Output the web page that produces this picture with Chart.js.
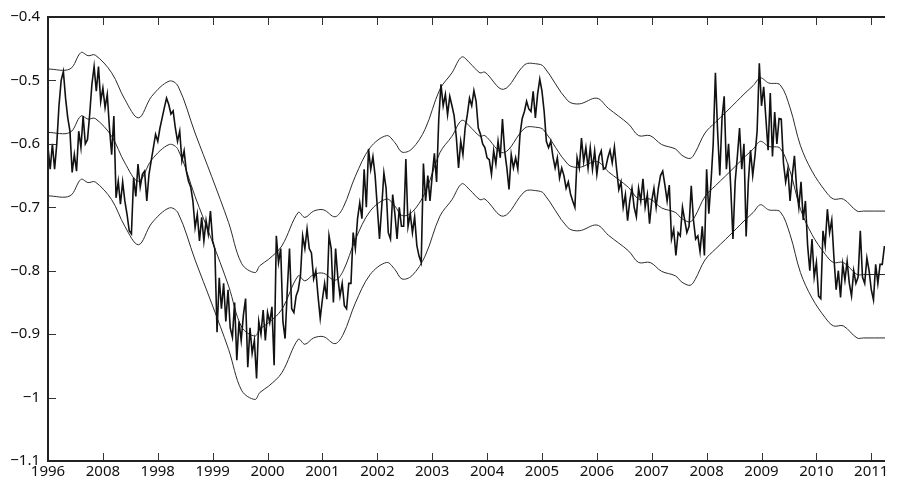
<!DOCTYPE html>
<html>
<head>
<meta charset="utf-8">
<script src="https://cdn.jsdelivr.net/npm/chart.js@4/dist/chart.umd.min.js"></script>
<style>
  html, body { margin: 0; padding: 0; background: #fff; }
  #chart { display: block; }
</style>
</head>
<body>
<canvas id="chart" width="904" height="484"></canvas>
<script>
// x tick positions and the labels printed under them (as in the original figure)
const xTickYears = [1996, 1997, 1998, 1999, 2000, 2001, 2002, 2003, 2004, 2005, 2006, 2007, 2008, 2009, 2010, 2011];
const xTickLabels = ['1996', '2008', '1998', '1999', '2000', '2001', '2002', '2003', '2004', '2005', '2006', '2007', '2008', '2009', '2010', '2011'];
const yTicks = [-1.1, -1.0, -0.9, -0.8, -0.7, -0.6, -0.5, -0.4];
const yTickLabels = ['\u22121.1', '\u22121', '\u22120.9', '\u22120.8', '\u22120.7', '\u22120.6', '\u22120.5', '\u22120.4'];

const rateStart = 1996;
const rateStep = 0.04;
const rateValues = [
  -0.605, -0.640, -0.600, -0.640, -0.600, -0.540, -0.500, -0.486, -0.528, -0.559,
  -0.580, -0.645, -0.617, -0.643, -0.580, -0.606, -0.556, -0.600, -0.593, -0.553,
  -0.506, -0.478, -0.517, -0.478, -0.533, -0.512, -0.543, -0.522, -0.575, -0.617,
  -0.556, -0.685, -0.659, -0.695, -0.660, -0.690, -0.711, -0.737, -0.742, -0.653,
  -0.683, -0.632, -0.668, -0.648, -0.643, -0.690, -0.648, -0.627, -0.606, -0.585,
  -0.596, -0.575, -0.559, -0.543, -0.528, -0.538, -0.553, -0.548, -0.575, -0.596,
  -0.580, -0.627, -0.611, -0.643, -0.659, -0.668, -0.690, -0.732, -0.711, -0.753,
  -0.716, -0.753, -0.721, -0.742, -0.706, -0.753, -0.766, -0.897, -0.811, -0.860,
  -0.820, -0.880, -0.830, -0.890, -0.905, -0.850, -0.941, -0.880, -0.910, -0.870,
  -0.844, -0.952, -0.890, -0.930, -0.910, -0.970, -0.880, -0.900, -0.862, -0.910,
  -0.866, -0.882, -0.857, -0.949, -0.745, -0.787, -0.765, -0.880, -0.907, -0.830,
  -0.765, -0.860, -0.866, -0.840, -0.830, -0.808, -0.745, -0.765, -0.734, -0.765,
  -0.772, -0.813, -0.800, -0.840, -0.875, -0.845, -0.820, -0.845, -0.745, -0.765,
  -0.850, -0.765, -0.810, -0.840, -0.820, -0.855, -0.860, -0.820, -0.820, -0.740,
  -0.765, -0.718, -0.693, -0.718, -0.640, -0.700, -0.608, -0.640, -0.620, -0.650,
  -0.700, -0.750, -0.700, -0.646, -0.670, -0.740, -0.750, -0.680, -0.710, -0.750,
  -0.700, -0.730, -0.730, -0.624, -0.730, -0.710, -0.740, -0.715, -0.760, -0.777,
  -0.787, -0.631, -0.690, -0.650, -0.690, -0.650, -0.615, -0.660, -0.560, -0.506,
  -0.540, -0.522, -0.554, -0.525, -0.540, -0.556, -0.590, -0.638, -0.596, -0.617,
  -0.575, -0.554, -0.528, -0.540, -0.516, -0.533, -0.575, -0.585, -0.600, -0.606,
  -0.622, -0.625, -0.648, -0.611, -0.632, -0.596, -0.622, -0.561, -0.611, -0.638,
  -0.672, -0.617, -0.638, -0.622, -0.640, -0.585, -0.560, -0.549, -0.533, -0.545,
  -0.549, -0.517, -0.559, -0.522, -0.498, -0.517, -0.549, -0.596, -0.606, -0.596,
  -0.620, -0.638, -0.622, -0.654, -0.638, -0.650, -0.670, -0.660, -0.679, -0.690,
  -0.700, -0.622, -0.638, -0.591, -0.628, -0.606, -0.638, -0.606, -0.640, -0.611,
  -0.648, -0.620, -0.611, -0.640, -0.638, -0.622, -0.610, -0.630, -0.605, -0.640,
  -0.672, -0.660, -0.700, -0.680, -0.721, -0.690, -0.670, -0.700, -0.715, -0.670,
  -0.690, -0.655, -0.700, -0.680, -0.726, -0.690, -0.670, -0.700, -0.670, -0.650,
  -0.643, -0.665, -0.690, -0.665, -0.750, -0.735, -0.776, -0.740, -0.745, -0.700,
  -0.720, -0.740, -0.730, -0.666, -0.720, -0.750, -0.745, -0.770, -0.730, -0.776,
  -0.640, -0.710, -0.660, -0.600, -0.488, -0.580, -0.650, -0.560, -0.525, -0.640,
  -0.600, -0.670, -0.750, -0.660, -0.620, -0.575, -0.640, -0.600, -0.746, -0.660,
  -0.610, -0.650, -0.620, -0.580, -0.473, -0.540, -0.510, -0.560, -0.610, -0.520,
  -0.620, -0.550, -0.600, -0.560, -0.561, -0.630, -0.660, -0.640, -0.690, -0.650,
  -0.619, -0.670, -0.700, -0.660, -0.720, -0.690, -0.760, -0.800, -0.750, -0.810,
  -0.787, -0.840, -0.844, -0.737, -0.760, -0.703, -0.740, -0.720, -0.780, -0.830,
  -0.800, -0.842, -0.790, -0.815, -0.785, -0.820, -0.840, -0.800, -0.820, -0.810,
  -0.737, -0.810, -0.820, -0.780, -0.800, -0.830, -0.846, -0.790, -0.820, -0.790,
  -0.790, -0.761
];

// moving average and its upper / lower bands
const bandYears = [
  1996.00, 1996.40, 1996.60, 1996.73, 1996.86, 1997.16, 1997.40, 1997.65, 1997.89, 1998.21,
  1998.37, 1998.68, 1998.98, 1999.29, 1999.53, 1999.77, 1999.86, 2000.02, 2000.26, 2000.56,
  2000.68, 2000.84, 2001.02, 2001.23, 2001.38, 2001.60, 2001.87, 2002.17, 2002.32, 2002.45,
  2002.63, 2002.87, 2003.14, 2003.36, 2003.54, 2003.69, 2003.87, 2003.96, 2004.30, 2004.69,
  2004.91, 2005.03, 2005.47, 2005.68, 2006.00, 2006.21, 2006.58, 2006.76, 2006.97, 2007.18,
  2007.43, 2007.55, 2007.70, 2007.79, 2007.97, 2008.16, 2008.34, 2008.55, 2008.70, 2008.85,
  2008.98, 2009.13, 2009.34, 2009.52, 2009.71, 2009.92, 2010.16, 2010.31, 2010.49, 2010.74,
  2010.86, 2011.25
];
const upperBand = [
  -0.482, -0.482, -0.456, -0.461, -0.460, -0.488, -0.530, -0.559, -0.525, -0.501,
  -0.509, -0.583, -0.651, -0.724, -0.789, -0.803, -0.792, -0.782, -0.761, -0.708,
  -0.716, -0.706, -0.704, -0.715, -0.700, -0.651, -0.606, -0.587, -0.598, -0.613,
  -0.608, -0.577, -0.514, -0.488, -0.463, -0.473, -0.488, -0.487, -0.514, -0.475,
  -0.474, -0.478, -0.532, -0.537, -0.528, -0.544, -0.569, -0.587, -0.587, -0.601,
  -0.608, -0.618, -0.623, -0.614, -0.583, -0.566, -0.551, -0.533, -0.520, -0.508,
  -0.496, -0.504, -0.507, -0.543, -0.603, -0.643, -0.674, -0.687, -0.687, -0.706,
  -0.706, -0.706
];
const movingAvg = [
  -0.582, -0.582, -0.556, -0.561, -0.560, -0.588, -0.630, -0.659, -0.625, -0.601,
  -0.609, -0.683, -0.751, -0.824, -0.889, -0.903, -0.892, -0.882, -0.861, -0.808,
  -0.816, -0.806, -0.804, -0.815, -0.800, -0.751, -0.706, -0.687, -0.698, -0.713,
  -0.708, -0.677, -0.614, -0.588, -0.563, -0.573, -0.588, -0.587, -0.614, -0.575,
  -0.574, -0.578, -0.632, -0.637, -0.628, -0.644, -0.669, -0.687, -0.687, -0.701,
  -0.708, -0.718, -0.723, -0.714, -0.683, -0.666, -0.651, -0.633, -0.620, -0.608,
  -0.596, -0.604, -0.607, -0.643, -0.703, -0.743, -0.774, -0.787, -0.787, -0.806,
  -0.806, -0.806
];
const lowerBand = [
  -0.682, -0.682, -0.656, -0.661, -0.660, -0.688, -0.730, -0.759, -0.725, -0.701,
  -0.709, -0.783, -0.851, -0.924, -0.989, -1.003, -0.992, -0.982, -0.961, -0.908,
  -0.916, -0.906, -0.904, -0.915, -0.900, -0.851, -0.806, -0.787, -0.798, -0.813,
  -0.808, -0.777, -0.714, -0.688, -0.663, -0.673, -0.688, -0.687, -0.714, -0.675,
  -0.674, -0.678, -0.732, -0.737, -0.728, -0.744, -0.769, -0.787, -0.787, -0.801,
  -0.808, -0.818, -0.823, -0.814, -0.783, -0.766, -0.751, -0.733, -0.720, -0.708,
  -0.696, -0.704, -0.707, -0.743, -0.803, -0.843, -0.874, -0.887, -0.887, -0.906,
  -0.906, -0.906
];

const ratePoints = rateValues.map((v, i) => ({ x: rateStart + i * rateStep, y: v }));
const toPoints = vals => vals.map((v, i) => ({ x: bandYears[i], y: v }));

const FONT = '"Noto Sans", "DejaVu Sans", sans-serif';

// MATLAB-like box: top, bottom and left axis lines with inward ticks
const axisBox = {
  id: 'axisBox',
  afterDraw(chart) {
    const { ctx, chartArea: a, scales } = chart;
    const len = 8;
    ctx.save();
    ctx.strokeStyle = '#333';
    ctx.lineWidth = 1;
    ctx.beginPath();
    xTickYears.forEach(v => {
      const px = Math.round(scales.x.getPixelForValue(v)) + 0.5;
      ctx.moveTo(px, a.bottom); ctx.lineTo(px, a.bottom - len);
      ctx.moveTo(px, a.top); ctx.lineTo(px, a.top + len);
    });
    yTicks.forEach(v => {
      const py = Math.round(scales.y.getPixelForValue(v)) + 0.5;
      ctx.moveTo(a.left, py); ctx.lineTo(a.left + len, py);
    });
    ctx.stroke();
    ctx.lineWidth = 2;
    ctx.strokeStyle = '#222';
    ctx.beginPath();
    ctx.moveTo(a.right, a.top); ctx.lineTo(a.left, a.top);
    ctx.lineTo(a.left, a.bottom); ctx.lineTo(a.right, a.bottom);
    ctx.stroke();
    ctx.restore();
  }
};

new Chart(document.getElementById('chart'), {
  type: 'line',
  data: {
    datasets: [
      { label: 'rate', data: ratePoints, borderColor: '#111', borderWidth: 1.6, tension: 0 },
      { label: 'upper', data: toPoints(upperBand), borderColor: '#2b2b2b', borderWidth: 1, tension: 0.35 },
      { label: 'average', data: toPoints(movingAvg), borderColor: '#2b2b2b', borderWidth: 1, tension: 0.35 },
      { label: 'lower', data: toPoints(lowerBand), borderColor: '#2b2b2b', borderWidth: 1, tension: 0.35 }
    ]
  },
  options: {
    responsive: false,
    animation: false,
    devicePixelRatio: 1,
    layout: { padding: { top: 15, right: 19, left: 0, bottom: 0 } },
    elements: { point: { radius: 0 } },
    plugins: { legend: { display: false }, tooltip: { enabled: false } },
    scales: {
      x: {
        type: 'linear',
        min: 1996,
        max: 2011.25,
        afterBuildTicks: s => { s.ticks = xTickYears.map(v => ({ value: v })); },
        afterFit: s => { s.height = 23; },
        grid: { display: false, drawTicks: false },
        border: { display: false },
        ticks: {
          padding: 2,
          maxRotation: 0,
          autoSkip: false,
          color: '#111',
          font: { family: FONT, size: 15 },
          callback: (v, i) => xTickLabels[i]
        }
      },
      y: {
        min: -1.1,
        max: -0.4,
        afterBuildTicks: s => { s.ticks = yTicks.map(v => ({ value: v })); },
        afterFit: s => { s.width = 48; },
        grid: { display: false, drawTicks: false },
        border: { display: false },
        ticks: {
          padding: 8,
          color: '#111',
          font: { family: FONT, size: 15 },
          callback: (v, i) => yTickLabels[i]
        }
      }
    }
  },
  plugins: [axisBox]
});
</script>
</body>
</html>
